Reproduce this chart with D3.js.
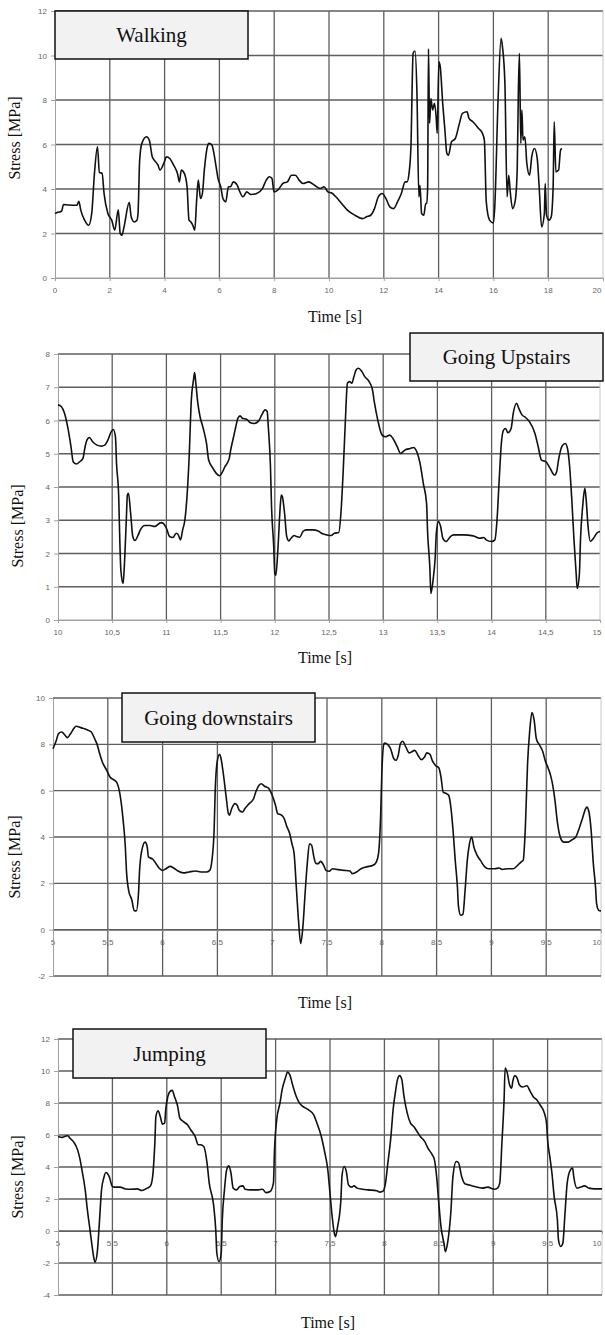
<!DOCTYPE html>
<html><head><meta charset="utf-8">
<script src="https://cdn.jsdelivr.net/npm/d3@7"></script>
<style>body{margin:0;background:#fff}svg{display:block}</style>
</head><body>
<svg id="c" width="605" height="1335"></svg>
<script>
const titles = ["Walking", "Going Upstairs", "Going downstairs", "Jumping"];
const yAxisTitle = "Stress [MPa]";
const xAxisTitle = "Time [s]";

const walkingXTicks = [0,2,4,6,8,10,12,14,16,18,20];
const walkingYTicks = [0,2,4,6,8,10,12];
const upstairsXTicks = [10,10.5,11,11.5,12,12.5,13,13.5,14,14.5,15];
const upstairsYTicks = [0,1,2,3,4,5,6,7,8];
const downstairsXTicks = [5,5.5,6,6.5,7,7.5,8,8.5,9,9.5,10];
const downstairsYTicks = [-2,0,2,4,6,8,10];
const jumpingXTicks = [5,5.5,6,6.5,7,7.5,8,8.5,9,9.5,10];
const jumpingYTicks = [-4,-2,0,2,4,6,8,10,12];

const walking = [
[0,2.9],[0.1,2.95],[0.24,3.0],[0.31,3.3],[0.5,3.28],[0.8,3.27],[0.87,3.45],[0.94,3.05],[1.08,2.6],[1.23,2.37],[1.34,2.9],
[1.44,4.7],[1.55,5.9],[1.62,4.75],[1.72,4.7],[1.79,3.8],[1.93,2.9],[2.07,2.6],[2.18,2.15],[2.31,3.07],[2.38,2.0],[2.44,1.92],
[2.52,2.3],[2.71,3.4],[2.78,2.75],[2.89,2.52],[2.99,2.6],[3.03,2.9],[3.09,5.3],[3.17,6.05],[3.34,6.35],[3.44,6.2],[3.55,5.45],
[3.62,5.3],[3.76,5.07],[3.83,4.85],[3.97,5.15],[4.07,5.45],[4.19,5.37],[4.33,5.07],[4.47,4.7],[4.54,4.32],[4.61,4.85],[4.72,4.7],
[4.82,4.1],[4.89,2.6],[4.96,2.52],[5.03,2.37],[5.1,2.15],[5.17,3.5],[5.23,4.4],[5.31,3.57],[5.38,3.8],[5.45,4.85],[5.56,5.9],
[5.62,6.05],[5.73,5.97],[5.8,5.6],[5.88,5.0],[5.95,4.47],[6.05,4.1],[6.13,3.57],[6.23,3.42],[6.33,4.1],[6.4,4.1],[6.51,4.32],
[6.65,4.17],[6.72,3.95],[6.86,3.65],[7.0,3.87],[7.15,3.75],[7.36,3.8],[7.57,4.02],[7.71,4.4],[7.82,4.55],[7.92,4.47],[7.99,3.87],
[8.13,3.95],[8.34,4.27],[8.48,4.32],[8.63,4.62],[8.77,4.62],[8.91,4.4],[9.05,4.25],[9.26,4.32],[9.47,4.17],[9.68,4.02],[9.82,4.1],
[9.96,3.87],[10.1,3.82],[10.25,3.65],[10.46,3.35],[10.67,3.05],[10.95,2.82],[11.23,2.67],[11.37,2.75],[11.52,2.82],[11.66,3.12],
[11.8,3.65],[11.94,3.8],[12.08,3.57],[12.22,3.2],[12.36,3.12],[12.5,3.42],[12.64,3.8],[12.78,4.32],[12.85,4.32],[12.92,4.7],
[12.99,5.9],[13.07,10.1],[13.14,10.2],[13.21,8.3],[13.28,3.65],[13.32,4.17],[13.38,2.9],[13.46,2.82],[13.53,3.35],[13.57,3.35],
[13.6,4.1],[13.63,10.3],[13.67,6.95],[13.72,8.07],[13.78,7.55],[13.85,7.85],[13.91,7.25],[13.95,6.5],[14.01,9.72],[14.06,9.5],
[14.15,7.85],[14.23,6.65],[14.3,5.6],[14.36,5.52],[14.47,6.12],[14.61,6.27],[14.76,6.95],[14.87,7.4],[15.04,7.47],[15.11,7.17],
[15.25,7.02],[15.46,6.72],[15.6,6.5],[15.67,6.2],[15.74,3.42],[15.86,2.6],[16.0,2.47],[16.05,3.2],[16.17,8.0],[16.28,10.77],
[16.33,10.4],[16.42,8.75],[16.5,3.65],[16.56,4.62],[16.62,3.8],[16.7,3.12],[16.8,3.5],[16.87,4.92],[16.91,8.3],[16.95,10.1],
[17.0,6.05],[17.04,7.55],[17.08,6.2],[17.15,6.35],[17.22,5.15],[17.32,4.62],[17.4,5.45],[17.5,5.82],[17.6,5.37],[17.67,4.1],
[17.76,2.3],[17.86,2.9],[17.89,4.25],[17.94,2.82],[18.03,2.6],[18.11,2.75],[18.18,4.1],[18.22,7.02],[18.28,4.77],[18.38,4.85],
[18.45,5.75],[18.5,5.82]
];

const upstairs = [
[10.0,6.47],[10.03,6.42],[10.06,6.22],[10.095,5.71],[10.12,5.21],[10.14,4.76],[10.17,4.69],[10.2,4.76],[10.23,4.86],[10.25,5.21],
[10.27,5.43],[10.29,5.49],[10.32,5.36],[10.36,5.26],[10.4,5.23],[10.43,5.26],[10.46,5.41],[10.49,5.66],[10.51,5.73],[10.53,5.51],
[10.54,4.71],[10.56,3.71],[10.57,2.41],[10.58,1.5],[10.6,1.1],[10.61,1.5],[10.63,3.0],[10.64,3.76],[10.65,3.81],[10.67,3.21],
[10.69,2.51],[10.71,2.39],[10.74,2.56],[10.76,2.71],[10.8,2.84],[10.85,2.84],[10.89,2.81],[10.95,2.93],[10.97,2.91],[11.0,2.76],
[11.03,2.51],[11.06,2.48],[11.09,2.61],[11.11,2.56],[11.13,2.41],[11.15,2.71],[11.17,3.0],[11.19,3.71],[11.21,4.91],[11.23,6.62],
[11.25,7.22],[11.26,7.44],[11.27,7.17],[11.29,6.52],[11.31,6.12],[11.34,5.76],[11.37,5.31],[11.39,4.81],[11.43,4.56],[11.46,4.41],
[11.49,4.34],[11.51,4.41],[11.54,4.61],[11.58,4.86],[11.59,5.06],[11.62,5.51],[11.64,5.81],[11.66,6.07],[11.68,6.14],[11.7,6.07],
[11.74,6.04],[11.77,5.94],[11.81,5.91],[11.85,5.98],[11.88,6.17],[11.91,6.32],[11.93,6.27],[11.94,5.81],[11.96,4.61],[11.97,3.41],
[11.99,2.21],[12.0,1.4],[12.01,1.35],[12.03,2.21],[12.05,3.41],[12.06,3.76],[12.07,3.71],[12.09,3.21],[12.11,2.51],[12.13,2.38],
[12.15,2.46],[12.18,2.54],[12.2,2.51],[12.23,2.49],[12.26,2.66],[12.29,2.71],[12.35,2.71],[12.4,2.68],[12.43,2.61],[12.48,2.56],
[12.52,2.54],[12.55,2.61],[12.59,2.63],[12.61,3.21],[12.63,4.41],[12.65,5.91],[12.67,7.12],[12.69,7.17],[12.71,7.12],[12.73,7.32],
[12.75,7.52],[12.77,7.57],[12.8,7.49],[12.83,7.32],[12.87,7.17],[12.9,6.94],[12.92,6.52],[12.95,6.01],[12.99,5.56],[13.02,5.51],
[13.06,5.56],[13.09,5.46],[13.13,5.21],[13.16,5.01],[13.2,5.11],[13.25,5.16],[13.28,5.19],[13.31,5.06],[13.34,4.71],[13.37,4.11],
[13.4,3.51],[13.41,2.61],[13.43,1.6],[13.44,0.8],[13.46,1.2],[13.48,1.9],[13.49,2.61],[13.51,2.96],[13.53,2.81],[13.55,2.46],
[13.58,2.36],[13.62,2.51],[13.65,2.56],[13.74,2.56],[13.83,2.53],[13.89,2.46],[13.93,2.48],[13.95,2.41],[14.0,2.36],[14.03,2.41],
[14.05,3.01],[14.07,4.21],[14.09,5.31],[14.11,5.71],[14.13,5.76],[14.15,5.63],[14.18,5.76],[14.2,6.22],[14.23,6.52],[14.25,6.37],
[14.28,6.17],[14.31,6.1],[14.35,5.96],[14.4,5.61],[14.43,5.21],[14.46,4.81],[14.5,4.76],[14.54,4.56],[14.58,4.36],[14.6,4.46],
[14.62,4.86],[14.65,5.23],[14.68,5.31],[14.7,5.16],[14.72,4.61],[14.74,3.61],[14.76,2.41],[14.78,1.4],[14.79,0.95],[14.81,1.4],
[14.82,2.41],[14.84,3.41],[14.86,3.96],[14.87,3.71],[14.89,2.81],[14.91,2.37],[14.94,2.46],[14.97,2.61],[15.0,2.66]
];

const downstairs = [
[5.0,7.81],[5.03,8.17],[5.05,8.46],[5.08,8.53],[5.11,8.39],[5.13,8.29],[5.16,8.46],[5.19,8.68],[5.21,8.78],[5.26,8.71],[5.31,8.63],
[5.35,8.53],[5.38,8.24],[5.4,8.03],[5.43,7.53],[5.45,7.24],[5.49,6.88],[5.52,6.59],[5.56,6.45],[5.58,6.37],[5.61,5.87],[5.64,4.72],
[5.66,3.57],[5.67,2.56],[5.69,1.7],[5.72,1.27],[5.74,0.83],[5.76,0.81],[5.78,1.55],[5.79,2.56],[5.81,3.42],[5.84,3.78],[5.86,3.57],
[5.87,3.14],[5.91,3.04],[5.93,2.92],[5.96,2.71],[6.0,2.56],[6.03,2.63],[6.07,2.73],[6.1,2.66],[6.14,2.53],[6.19,2.45],[6.24,2.49],
[6.3,2.53],[6.35,2.49],[6.4,2.49],[6.43,2.56],[6.45,2.99],[6.47,4.29],[6.48,6.01],[6.5,7.31],[6.52,7.57],[6.53,7.45],[6.55,6.88],
[6.58,5.73],[6.6,5.01],[6.61,4.94],[6.63,5.22],[6.66,5.44],[6.68,5.37],[6.7,5.15],[6.73,5.08],[6.75,5.22],[6.79,5.44],[6.83,5.65],
[6.85,5.94],[6.88,6.23],[6.9,6.3],[6.93,6.19],[6.97,6.09],[7.0,5.8],[7.03,5.37],[7.05,5.01],[7.08,4.96],[7.11,4.79],[7.13,4.5],
[7.16,4.14],[7.18,3.71],[7.2,3.28],[7.22,1.84],[7.24,0.4],[7.26,-0.6],[7.28,0.12],[7.3,1.55],[7.32,2.85],[7.34,3.71],[7.36,3.64],
[7.38,3.14],[7.4,2.85],[7.42,2.85],[7.44,2.95],[7.47,2.78],[7.49,2.56],[7.52,2.52],[7.55,2.63],[7.6,2.59],[7.65,2.56],[7.71,2.53],
[7.73,2.42],[7.77,2.49],[7.81,2.63],[7.86,2.71],[7.92,2.78],[7.95,2.92],[7.97,3.28],[7.99,5.01],[8.0,6.73],[8.02,8.03],[8.03,8.06],
[8.06,7.96],[8.08,7.81],[8.11,7.38],[8.13,7.31],[8.15,7.53],[8.17,8.03],[8.19,8.13],[8.22,7.88],[8.25,7.63],[8.27,7.67],[8.3,7.74],
[8.33,7.53],[8.36,7.34],[8.39,7.45],[8.41,7.63],[8.44,7.57],[8.46,7.31],[8.49,7.09],[8.52,6.99],[8.54,6.59],[8.56,5.94],[8.59,5.87],
[8.61,5.8],[8.63,5.29],[8.65,4.29],[8.67,2.99],[8.69,1.84],[8.7,0.98],[8.72,0.62],[8.74,0.66],[8.76,1.7],[8.78,2.99],[8.8,3.71],
[8.82,4.0],[8.84,3.57],[8.87,3.21],[8.9,2.99],[8.94,2.71],[8.97,2.63],[9.03,2.63],[9.07,2.66],[9.1,2.6],[9.15,2.63],[9.2,2.63],
[9.24,2.78],[9.27,2.92],[9.29,2.99],[9.31,4.43],[9.33,7.17],[9.35,8.6],[9.37,9.37],[9.39,9.04],[9.41,8.24],[9.44,7.96],[9.47,7.67],
[9.49,7.31],[9.52,6.95],[9.54,6.66],[9.56,6.23],[9.58,5.58],[9.6,4.72],[9.62,4.14],[9.64,3.86],[9.66,3.78],[9.7,3.78],[9.73,3.86],
[9.77,4.0],[9.8,4.36],[9.83,4.79],[9.86,5.22],[9.87,5.29],[9.89,5.08],[9.91,4.29],[9.93,2.85],[9.95,1.84],[9.96,1.12],[9.98,0.83],
[10.0,0.81]
];

const jumping = [
[5.0,5.91],[5.04,5.85],[5.06,5.91],[5.09,5.95],[5.11,5.8],[5.14,5.6],[5.18,5.07],[5.2,4.55],[5.22,3.82],[5.25,2.57],[5.27,1.32],
[5.29,0.28],[5.31,-0.77],[5.33,-1.7],[5.34,-1.95],[5.36,-1.39],[5.38,0.48],[5.4,2.57],[5.42,3.3],[5.44,3.66],[5.47,3.41],[5.5,2.78],
[5.52,2.74],[5.57,2.74],[5.62,2.63],[5.67,2.61],[5.73,2.63],[5.77,2.53],[5.82,2.68],[5.85,2.82],[5.87,3.41],[5.89,5.49],[5.9,7.16],
[5.92,7.52],[5.94,7.16],[5.96,6.68],[5.98,6.74],[5.99,7.58],[6.01,8.41],[6.03,8.73],[6.05,8.79],[6.07,8.41],[6.1,7.79],[6.12,7.06],
[6.15,6.85],[6.19,6.64],[6.22,6.33],[6.26,5.91],[6.29,5.39],[6.31,5.39],[6.34,5.28],[6.37,4.24],[6.39,2.99],[6.43,1.63],[6.45,0.06],
[6.46,-1.39],[6.48,-1.91],[6.5,-1.39],[6.51,0.69],[6.53,2.57],[6.55,3.82],[6.57,4.07],[6.59,3.61],[6.61,2.68],[6.64,2.57],[6.67,2.78],
[6.7,2.82],[6.72,2.61],[6.77,2.57],[6.84,2.57],[6.88,2.61],[6.91,2.4],[6.95,2.47],[6.98,2.99],[6.99,5.07],[7.01,6.95],[7.04,7.99],
[7.06,8.83],[7.09,9.56],[7.11,9.93],[7.13,9.77],[7.16,9.04],[7.19,8.41],[7.22,7.99],[7.25,7.79],[7.3,7.58],[7.35,7.26],[7.38,6.74],
[7.42,5.91],[7.45,4.97],[7.48,3.82],[7.5,2.36],[7.52,0.9],[7.54,-0.15],[7.55,-0.35],[7.57,0.27],[7.6,1.94],[7.61,3.41],[7.63,4.03],
[7.65,3.72],[7.67,2.88],[7.7,2.74],[7.72,2.82],[7.75,2.68],[7.8,2.61],[7.85,2.57],[7.93,2.51],[7.96,2.43],[7.99,2.51],[8.01,2.99],
[8.03,4.14],[8.06,5.91],[8.08,7.58],[8.1,8.62],[8.12,9.46],[8.14,9.71],[8.16,9.46],[8.18,8.41],[8.21,7.37],[8.24,6.74],[8.27,6.53],
[8.3,6.22],[8.33,5.91],[8.37,5.6],[8.4,5.18],[8.44,4.76],[8.46,4.45],[8.48,3.41],[8.5,1.74],[8.52,0.27],[8.55,-0.87],[8.56,-1.29],
[8.58,-0.77],[8.61,1.11],[8.63,3.41],[8.66,4.34],[8.68,4.28],[8.71,3.41],[8.74,2.95],[8.78,2.88],[8.83,2.78],[8.9,2.68],[8.95,2.74],
[9.01,2.61],[9.04,2.68],[9.06,2.99],[9.08,5.49],[9.1,8.2],[9.11,10.19],[9.13,9.87],[9.15,9.14],[9.17,8.93],[9.18,9.35],[9.2,9.71],
[9.22,9.56],[9.24,9.14],[9.27,9.0],[9.31,9.08],[9.34,8.73],[9.37,8.37],[9.4,8.2],[9.43,7.89],[9.47,7.37],[9.49,6.74],[9.5,5.7],
[9.52,4.66],[9.54,3.61],[9.56,2.16],[9.59,0.69],[9.6,-0.56],[9.62,-0.97],[9.64,-0.77],[9.66,1.11],[9.68,2.99],[9.71,3.82],[9.73,3.93],
[9.74,3.41],[9.77,2.68],[9.8,2.74],[9.84,2.82],[9.88,2.68],[9.93,2.63],[10.0,2.63]
];

// layout (positions / styles only)
const layout = [
  {l:55, r:603, t:11, b:278, box:[55,11,248,59], ylab:[15,138], xlab:[335,317]},
  {l:58, r:600, t:354, b:620, box:[410,333,603,381], ylab:[18,526], xlab:[325,658]},
  {l:53, r:601, t:698, b:976, box:[122,693,315,742], ylab:[15,857], xlab:[325,1003]},
  {l:58, r:602, t:1039, b:1295, box:[73,1029,266,1078], ylab:[18,1177], xlab:[328,1323]}
];
const series = [walking, upstairs, downstairs, jumping];
const xTickSets = [walkingXTicks, upstairsXTicks, downstairsXTicks, jumpingXTicks];
const yTickSets = [walkingYTicks, upstairsYTicks, downstairsYTicks, jumpingYTicks];

const fmt = v => String(v).replace('.', ',');
const svg = d3.select('#c');
const serif = '"Liberation Serif","Times New Roman",serif';
const sans = '"Liberation Sans",Arial,sans-serif';
const gridCol = '#5e5e5e';

series.forEach((data, i) => {
  const L = layout[i];
  const xt = xTickSets[i], yt = yTickSets[i];
  const x = d3.scaleLinear().domain([xt[0], xt[xt.length-1]]).range([L.l, L.r]);
  const y = d3.scaleLinear().domain([yt[0], yt[yt.length-1]]).range([L.b, L.t]);
  const g = svg.append('g');
  const y0 = yt[0] < 0 ? y(0) : L.b;

  // x tick labels (under the zero line)
  g.append('g').selectAll('text').data(xt).join('text')
    .attr('x', d => Math.min(x(d), 597)).attr('y', y0 + 15)
    .attr('text-anchor', 'middle')
    .attr('font-family', sans).attr('font-size', 8).attr('fill', '#666')
    .text(fmt);
  // y tick labels
  g.append('g').selectAll('text').data(yt).join('text')
    .attr('x', L.l - 8).attr('y', d => y(d) + 3)
    .attr('text-anchor', 'end')
    .attr('font-family', sans).attr('font-size', 8).attr('fill', '#666')
    .text(d => String(d));

  // horizontal grid
  g.append('g').selectAll('line').data(yt.slice(1)).join('line')
    .attr('x1', L.l).attr('x2', L.r)
    .attr('y1', d => y(d)).attr('y2', d => y(d))
    .attr('stroke', gridCol).attr('stroke-width', 1.3);
  // vertical grid
  g.append('g').selectAll('line').data(xt.slice(1, -1)).join('line')
    .attr('x1', d => x(d)).attr('x2', d => x(d))
    .attr('y1', L.t).attr('y2', L.b)
    .attr('stroke', gridCol).attr('stroke-width', 1.3);
  // right edge
  g.append('line').attr('x1', L.r).attr('x2', L.r).attr('y1', L.t).attr('y2', L.b)
    .attr('stroke', '#c8c8c8').attr('stroke-width', 1);
  // bottom edge
  g.append('line').attr('x1', L.l).attr('x2', L.r).attr('y1', L.b).attr('y2', L.b)
    .attr('stroke', yt[0] < 0 ? gridCol : '#a0a0a0').attr('stroke-width', yt[0] < 0 ? 1.3 : 1);
  // y axis (left)
  const ya = g.append('g').attr('transform', `translate(${L.l},0)`)
    .call(d3.axisLeft(y).tickValues(yt).tickSize(4).tickFormat(''));
  ya.selectAll('path,line').attr('stroke', '#a0a0a0');
  // x axis line at zero
  const xa = g.append('g').attr('transform', `translate(0,${y0})`)
    .call(d3.axisBottom(x).tickValues(xt).tickSize(3).tickFormat(''));
  xa.selectAll('path').attr('stroke', yt[0] < 0 ? gridCol : '#a0a0a0');
  xa.selectAll('line').attr('stroke', '#a0a0a0');

  // data line
  g.append('path').datum(data)
    .attr('d', d3.line().x(d => x(d[0])).y(d => y(d[1])).curve(d3.curveMonotoneX))
    .attr('fill', 'none').attr('stroke', '#111').attr('stroke-width', 1.6)
    .attr('stroke-linejoin', 'round');

  // title box
  const [bx0, by0, bx1, by1] = L.box;
  g.append('rect').attr('x', bx0).attr('y', by0).attr('width', bx1 - bx0).attr('height', by1 - by0)
    .attr('fill', '#f2f2f2').attr('stroke', '#111').attr('stroke-width', 1.5);
  g.append('text').attr('x', (bx0 + bx1) / 2).attr('y', (by0 + by1) / 2 + 7)
    .attr('text-anchor', 'middle').attr('font-family', serif).attr('font-size', 21).attr('fill', '#111')
    .text(titles[i]);

  // axis titles
  g.append('text').attr('transform', `translate(${L.ylab[0] + 5},${L.ylab[1]}) rotate(-90)`)
    .attr('text-anchor', 'middle').attr('font-family', serif).attr('font-size', 16).attr('fill', '#111')
    .text(yAxisTitle);
  g.append('text').attr('x', L.xlab[0]).attr('y', L.xlab[1] + 5)
    .attr('text-anchor', 'middle').attr('font-family', serif).attr('font-size', 16).attr('fill', '#111')
    .text(xAxisTitle);
});
</script>
</body></html>
